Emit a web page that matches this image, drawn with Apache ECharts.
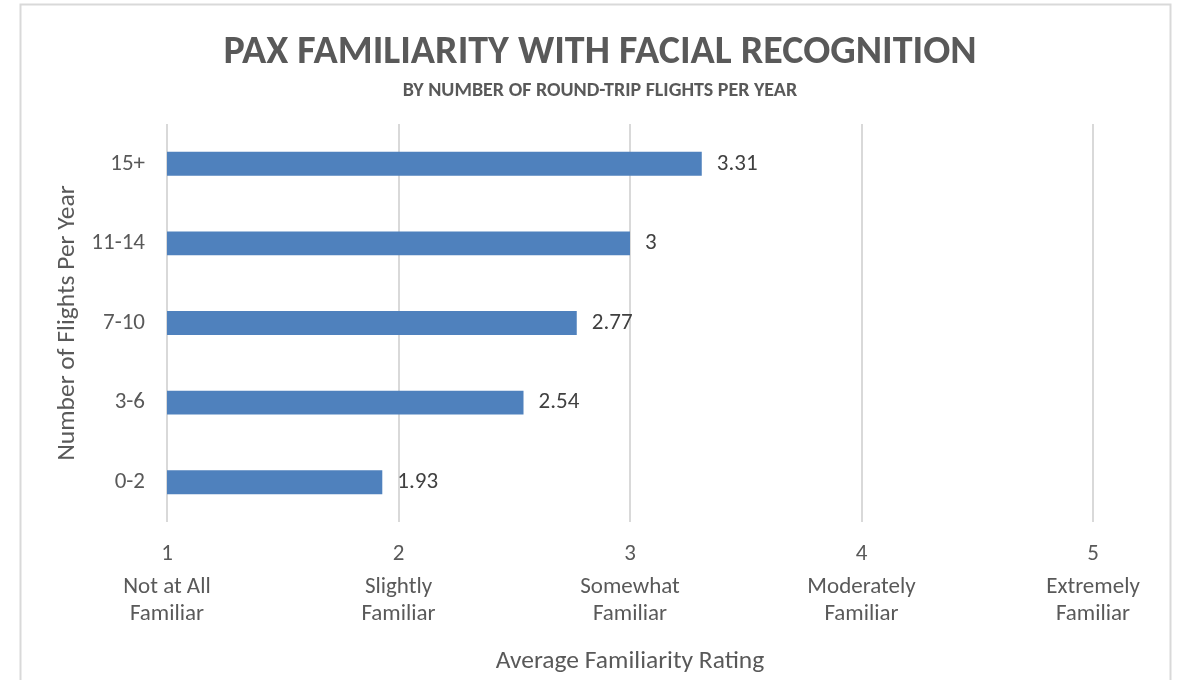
<!DOCTYPE html>
<html>
<head>
<meta charset="utf-8">
<script src="https://cdn.jsdelivr.net/npm/echarts@6/dist/echarts.min.js"></script>
<style>html,body{margin:0;padding:0;background:#fff}#c{width:1178px;height:680px}</style>
</head>
<body>
<div id="c"></div>
<script>
const categories = ['0-2', '3-6', '7-10', '11-14', '15+'];
const values = [1.93, 2.54, 2.77, 3, 3.31];
const tickLabels = {1: ['Not at All', 'Familiar'], 2: ['Slightly', 'Familiar'], 3: ['Somewhat', 'Familiar'], 4: ['Moderately', 'Familiar'], 5: ['Extremely', 'Familiar']};

const FONT = 'Carlito, "Liberation Sans Narrow", Lato, "Open Sans", "Noto Sans", sans-serif';
const GRAY = '#595959';
const chart = echarts.init(document.getElementById('c'));
chart.setOption({
  backgroundColor: '#fff',
  animation: false,
  graphic: [{
    type: 'rect', shape: {x: 20.5, y: 4.5, width: 1150, height: 700},
    style: {fill: 'none', stroke: '#d9d9d9', lineWidth: 2}, z: -1
  }],
  title: {
    text: 'PAX FAMILIARITY WITH FACIAL RECOGNITION',
    subtext: 'BY NUMBER OF ROUND-TRIP FLIGHTS PER YEAR',
    left: 595, textAlign: 'center', top: 28, itemGap: 8,
    textStyle: {fontFamily: FONT, fontSize: 40, fontWeight: 'bold', color: GRAY},
    subtextStyle: {fontFamily: FONT, fontSize: 20, fontWeight: 'bold', color: GRAY}
  },
  grid: {left: 167, right: 1178 - 1093, top: 124, bottom: 680 - 522},
  xAxis: {
    type: 'value', min: 1, max: 5, interval: 1,
    name: 'Average Familiarity Rating', nameLocation: 'middle', nameGap: 127,
    nameTextStyle: {fontFamily: FONT, fontSize: 25.5, color: GRAY},
    axisLine: {show: false}, axisTick: {show: false},
    splitLine: {lineStyle: {color: '#d9d9d9', width: 2}},
    axisLabel: {
      fontFamily: FONT, fontSize: 23, color: GRAY, margin: 13,
      formatter: v => '{n|' + v + '}\n{t|' + tickLabels[v][0] + '}\n{t|' + tickLabels[v][1] + '}',
      rich: {
        n: {fontFamily: FONT, fontSize: 23, color: GRAY, lineHeight: 39},
        t: {fontFamily: FONT, fontSize: 23, color: GRAY, lineHeight: 27}
      }
    }
  },
  yAxis: {
    type: 'category', data: categories,
    name: 'Number of Flights Per Year', nameLocation: 'middle', nameGap: 80, nameRotate: 90,
    nameTextStyle: {fontFamily: FONT, fontSize: 25.5, color: GRAY},
    axisLine: {show: false}, axisTick: {show: false},
    axisLabel: {fontFamily: FONT, fontSize: 23, color: GRAY, margin: 22}
  },
  series: [{
    type: 'bar', data: values, barWidth: '30%',
    itemStyle: {color: '#4f81bd'},
    label: {show: true, position: 'right', distance: 15, fontFamily: FONT, fontSize: 23, color: '#404040'}
  }]
});
</script>
</body>
</html>
